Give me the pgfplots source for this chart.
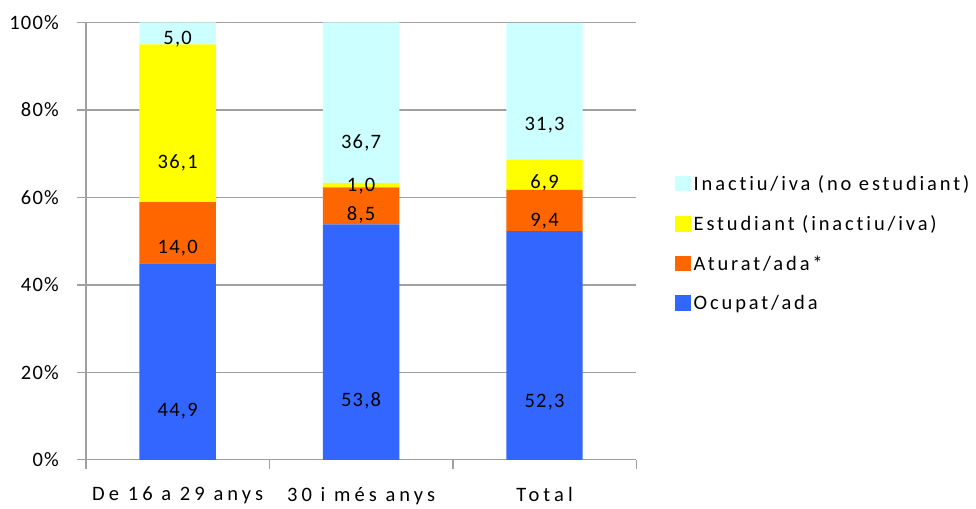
\documentclass[border=0pt]{standalone}
\usepackage{fontspec}
\setmainfont{Carlito}[LetterSpace=6, Ligatures=NoCommon]
\newfontfamily\spaced{Carlito}[LetterSpace=14, Ligatures=NoCommon]
\newfontfamily\xspaced{Carlito}[LetterSpace=20, Ligatures=NoCommon]
\usepackage{pgfplots}
\usepackage{pgfplotstable}
\pgfplotsset{compat=1.18}

\definecolor{ocup}{HTML}{3366FF}
\definecolor{atur}{HTML}{FF6600}
\definecolor{estu}{HTML}{FFFF00}
\definecolor{inac}{HTML}{CCFFFF}
\definecolor{gline}{HTML}{A0A0A0}

% x: 0 = De 16 a 29 anys, 1 = 30 i mes anys, 2 = Total
\pgfplotstableread{
x v
0 44.9
1 53.8
2 52.3
}\ocupat
\pgfplotstableread{
x v
0 14.0
1 8.5
2 9.4
}\aturat
\pgfplotstableread{
x v
0 36.1
1 1.0
2 6.9
}\estudiant
\pgfplotstableread{
x v
0 5.0
1 36.7
2 31.3
}\inactiu

\begin{document}
\begin{tikzpicture}
\begin{axis}[
    ybar stacked,
    x=138.75pt, y=3.3075pt,
    bar width=57.75pt,
    xmin=-0.5, xmax=2.5,
    ymin=0, ymax=100,
    enlargelimits=false,
    axis lines*=left,
    axis line style={gline, line width=1.1pt},
    ymajorgrids,
    grid style={gline, line width=1.1pt},
    ytick={0,20,...,100},
    yticklabel={\pgfmathprintnumber{\tick}\%},
    xtick={-0.5,0.5,1.5,2.5},
    xticklabels={},
    extra x ticks={0,1,2},
    extra x tick labels={De 16 a 29 anys,30 i més anys,Total},
    extra x tick style={major tick length=0pt, grid=none,
        xticklabel style={yshift=-17pt, font=\fontsize{15.5}{18}\selectfont\xspaced}},
    tick align=outside,
    major tick length=7pt,
    tick style={gline, line width=1.1pt},
    tick label style={font=\fontsize{15.5}{18}\selectfont},
    yticklabel style={/pgf/number format/assume math mode=true, xshift=-10pt},
    point meta=explicit symbolic,
    nodes near coords={\pgfmathprintnumber[assume math mode=true, use comma, fixed, fixed zerofill, precision=1]{\pgfplotspointmeta}},
    every node near coord/.append style={anchor=center, yshift=-\pgfplotspointmeta*0.826875pt,
        font=\fontsize{15.5}{18}\selectfont, text=black},
    legend style={draw=none, fill=none, at={(1.063,0.494)}, anchor=west,
        font=\fontsize{15.5}{18}\selectfont\spaced, row sep=13.5pt,
        legend cell align=left},
    legend image code/.code={\fill[#1] (0pt,-5.5pt) rectangle (12pt,6.5pt);},
    reverse legend,
]
\addplot[fill=ocup, draw=none] table[x=x, y=v, meta=v] {\ocupat};
\addplot[fill=atur, draw=none] table[x=x, y=v, meta=v] {\aturat};
\addplot[fill=estu, draw=none] table[x=x, y=v, meta=v] {\estudiant};
\addplot[fill=inac, draw=none] table[x=x, y=v, meta=v] {\inactiu};
\legend{Ocupat/ada, Aturat/ada*, Estudiant (inactiu/iva), Inactiu/iva (no estudiant)}
\end{axis}
% white margins above and left of the plot area, as in the reference
\path ([yshift=17pt]current axis.north east);
\path ([xshift=-65pt]current axis.south west);
\end{tikzpicture}
\end{document}
